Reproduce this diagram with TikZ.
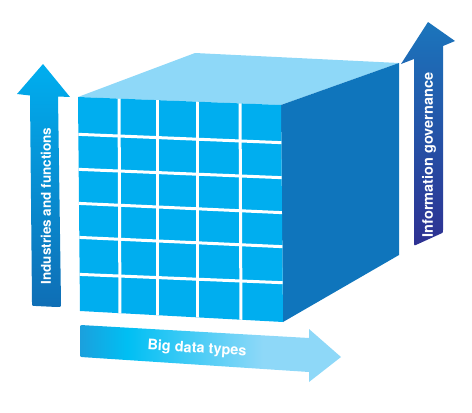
\documentclass[tikz,border=0pt]{standalone}
\usepackage{fontspec}
\setmainfont{TeX Gyre Heros}
\definecolor{cubefront}{HTML}{00AEEF}
\definecolor{cubetop}{HTML}{8ED8F8}
\definecolor{cuberight}{HTML}{0F75BC}
\definecolor{lefttop}{HTML}{00AEEF}
\definecolor{leftbot}{HTML}{0F6EB5}
\definecolor{righttop}{HTML}{1B75BC}
\definecolor{rightbot}{HTML}{2E3192}
\definecolor{botA}{HTML}{1BA0DD}
\definecolor{botB}{HTML}{00BFF3}
\definecolor{botC}{HTML}{8ED8F8}
\pgfdeclarehorizontalshading{bigdatashade}{100bp}{color(0bp)=(botA); color(25bp)=(botA); color(34bp)=(botB); color(60bp)=(botC); color(100bp)=(botC)}
\begin{document}
\begin{tikzpicture}[x=1pt,y=-1pt,
  arrowtext/.style={text=white, font=\bfseries\fontsize{14.5}{17}\selectfont, inner sep=0pt},
  gridline/.style={white, line width=3pt}]
\useasboundingbox (0,0) rectangle (472,413);
% cube faces
\fill[cubetop] (78,97) -- (195,53) -- (399,63) -- (281,105) -- cycle;
\fill[cuberight] (281,105) -- (399,63) -- (399,255) -- (283,322) -- cycle;
\fill[cubefront] (78,97) -- (281,105) -- (283,322) -- (80,311) -- cycle;
\begin{scope}
\clip (78,97) -- (281,105) -- (283,322) -- (80,311) -- cycle;
\draw[gridline] (119,90) -- (120,320);
\draw[gridline] (157,90) -- (157,322);
\draw[gridline] (197,90) -- (197,325);
\draw[gridline] (240,90) -- (241,328);
\draw[gridline] (70,134) -- (290,143);
\draw[gridline] (70,169) -- (290,178);
\draw[gridline] (70,203) -- (290,213);
\draw[gridline] (70,237) -- (290,247);
\draw[gridline] (70,274) -- (290,283);
\end{scope}
% left arrow
\shade[top color=lefttop, bottom color=leftbot]
  (43,64) -- (70,97) -- (58,96.5) -- (61,303) .. controls (61,307) .. (57,307)
  -- (36,306) .. controls (32,306) .. (32,302) -- (30,95.5) -- (17,94) -- cycle;
% right arrow
\shade[top color=righttop, bottom color=rightbot]
  (428,22) -- (455,41) -- (443,46) -- (443,230) .. controls (443,233) .. (440,234)
  -- (418,244) .. controls (414,246) .. (414,242) -- (414,59) -- (401,64) -- cycle;
% bottom arrow
\shade[shading=bigdatashade]
  (200,331.8) -- (309,338) -- (309,329) -- (341,357) -- (309,382) -- (309,372)
  -- (84,357.2) .. controls (80,357) .. (80,353) -- (80,329) .. controls (80,325) .. (84,325.2) -- cycle;
% labels
\node[arrowtext, font=\bfseries\fontsize{13.5}{16}\selectfont, rotate=90] (ind) at (46,206) {Industries and functions};
\node[arrowtext, rotate=90] (gov) at (429,155) {Information governance};
\node[arrowtext, rotate=-3.4] (big) at (197,349) {Big data types};
\end{tikzpicture}
\end{document}
